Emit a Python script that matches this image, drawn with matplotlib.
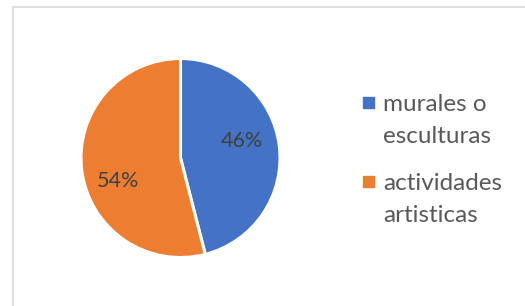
import matplotlib.pyplot as plt
from matplotlib.patches import Rectangle

# Data
labels = ["murales o\nesculturas", "actividades\nartisticas"]
values = [46, 54]
colors = ["#4472C4", "#ED7D31"]

# label offsets in pie radius units (Excel "best fit" style placement)
label_pos = [(0.62, 0.17), (-0.63, -0.23)]

W, H = 525, 306
plt.rcParams['font.family'] = ['Lato', 'DejaVu Sans']

fig = plt.figure(figsize=(W / 100, H / 100), dpi=100)
fig.patch.set_facecolor("white")

# chart area border (extends past right/bottom of the image)
fig.patches.append(Rectangle((13 / W, -0.1), 1.2, 1 - 7 / H + 0.1,
                             transform=fig.transFigure, fill=False,
                             edgecolor="#D9D9D9", linewidth=1.2))

# pie axes
ax = fig.add_axes([80 / W, 1 - 259 / H, 201 / W, 202 / H])
wedges, texts, autotexts = ax.pie(
    values, colors=colors, startangle=90, counterclock=False,
    autopct="%d%%", radius=1.0,
    wedgeprops=dict(edgecolor="white", linewidth=2.2),
    textprops=dict(color="#404040", fontsize=15.5))
for t, (x, y) in zip(autotexts, label_pos):
    t.set_position((x, y))
    t.set_va("center")
ax.set_xlim(-1.01, 1.01)
ax.set_ylim(-1.01, 1.01)
ax.set_aspect("equal")
ax.axis("off")

# legend drawn by hand: square marker next to first text line
leg_x = 363 / W
text_x = 383 / W
entry_base = [111, 190]   # baseline of first line, pixels from top
line_gap = 32
for lab, col, yb in zip(labels, colors, entry_base):
    fig.patches.append(Rectangle((leg_x, 1 - (yb - 3) / H), 11 / W, 11 / H,
                                 transform=fig.transFigure, color=col))
    for i, line in enumerate(lab.split("\n")):
        fig.text(text_x, 1 - (yb + i * line_gap) / H, line, ha="left",
                 va="baseline", fontsize=17.5, color="#595959")

fig.savefig("out.png", dpi=100)
